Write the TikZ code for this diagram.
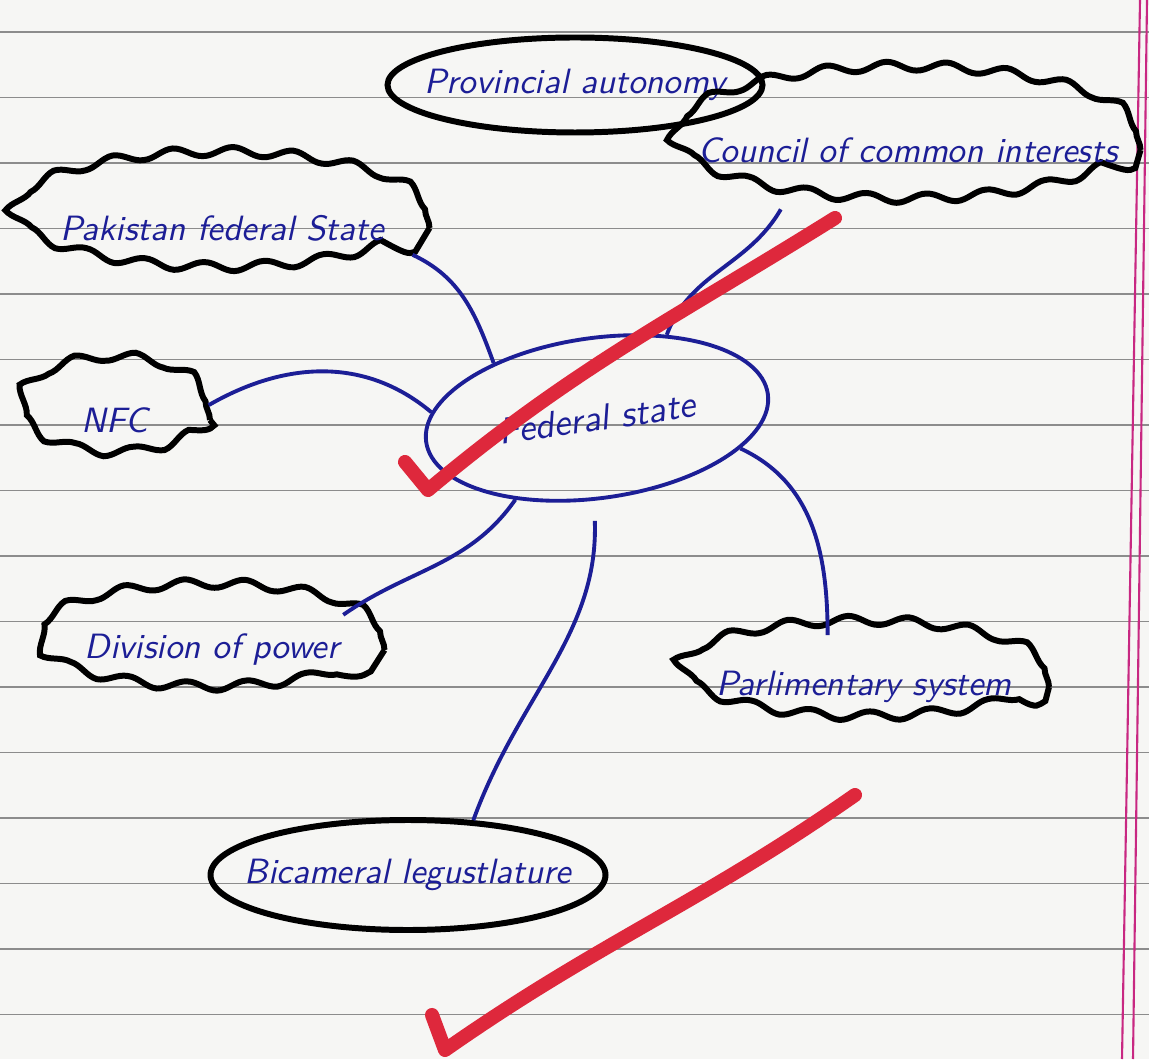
\documentclass[tikz,border=0pt]{standalone}
\usepackage{fontspec}
\usepackage{tikz}
\usetikzlibrary{positioning,shapes.geometric,decorations.pathmorphing}

\definecolor{inkblue}{RGB}{28,30,150}
\definecolor{tickred}{RGB}{222,40,60}
\definecolor{paper}{RGB}{246,246,244}
\definecolor{ruling}{RGB}{140,140,140}
\definecolor{margin}{RGB}{200,40,130}

\tikzset{
	oval/.style={ellipse, draw = black, line width = 1.7pt, inner xsep = -0.5cm, inner ysep = -0.15cm,
		text = inkblue, font = \sffamily\itshape\fontsize{10}{12}\selectfont},
	blob/.style={oval, decorate, decoration = {snake, segment length = 6mm, amplitude = 0.45mm}},
	link/.style={draw = inkblue, line width = 1.1pt},
	tick/.style={draw = tickred, line width = 4pt, line cap = round, line join = round}
}

\begin{document}
\begin{tikzpicture}

\useasboundingbox (0, 0) rectangle (11.49, 10.59);
\fill[paper] (0, 0) rectangle (11.49, 10.59);

\begin{scope}
	\foreach \k in {0, 1, ..., 15}
		\draw[ruling, line width = 0.4pt] (0, 10.27 - 0.655*\k) -- (11.49, 10.27 - 0.655*\k);
	\draw[margin, line width = 0.6pt] (11.40, 10.59) -- (11.22, 0);
	\draw[margin, line width = 0.6pt] (11.47, 10.59) -- (11.33, 0);
\end{scope}

\node[oval, minimum width = 3.75cm, minimum height = 0.95cm] (Prov) at (5.75, 9.74) {Provincial autonomy};
\node[blob, minimum width = 4.65cm, minimum height = 1.35cm] (Council) at (9.08, 9.09) {Council of common interests};
\node[blob, minimum width = 4.15cm, minimum height = 1.2cm] (Pak) at (2.22, 8.31) {Pakistan federal State};
\node[blob, minimum width = 1.9cm, minimum height = 0.95cm] (NFC) at (1.15, 6.39) {NFC};
\node[ellipse, draw = inkblue, line width = 1.1pt, inner sep = 0pt, rotate = 8,
	text = inkblue, font = \sffamily\itshape\fontsize{10.5}{12}\selectfont,
	minimum width = 3.45cm, minimum height = 1.6cm] (Fed) at (5.97, 6.41) {Federal state};
\node[blob, minimum width = 3.45cm, minimum height = 1.0cm] (Div) at (2.12, 4.09) {Division of power};
\node[blob, minimum width = 3.7cm, minimum height = 1.0cm] (Parl) at (8.64, 3.72) {Parlimentary system};
\node[oval, minimum width = 3.95cm, minimum height = 1.1cm] (Bic) at (4.08, 1.84) {Bicameral legustlature};

\draw[link] (Pak.-8) to[out = -25, in = 110] (Fed.144);
\draw[link] (NFC.9) to[out = 30, in = 140] (Fed.170);
\draw[link] (Council.205) to[out = -120, in = 70] (Fed.42);
\draw[link] (Fed.-20) to[out = -25, in = 90] (Parl.125);
\draw[link] (Fed.217) to[out = -125, in = 35] (Div.15);
\draw[link, shorten < = 2mm] (Fed.-100) to[out = -88, in = 70] (Bic.40);

\draw[tick] (4.05, 5.97) -- (4.28, 5.69) to[out = 40, in = 212] (8.35, 8.41);
\draw[tick] (4.32, 0.44) -- (4.45, 0.09) to[out = 35, in = 215] (8.55, 2.64);

\end{tikzpicture}
\end{document}
